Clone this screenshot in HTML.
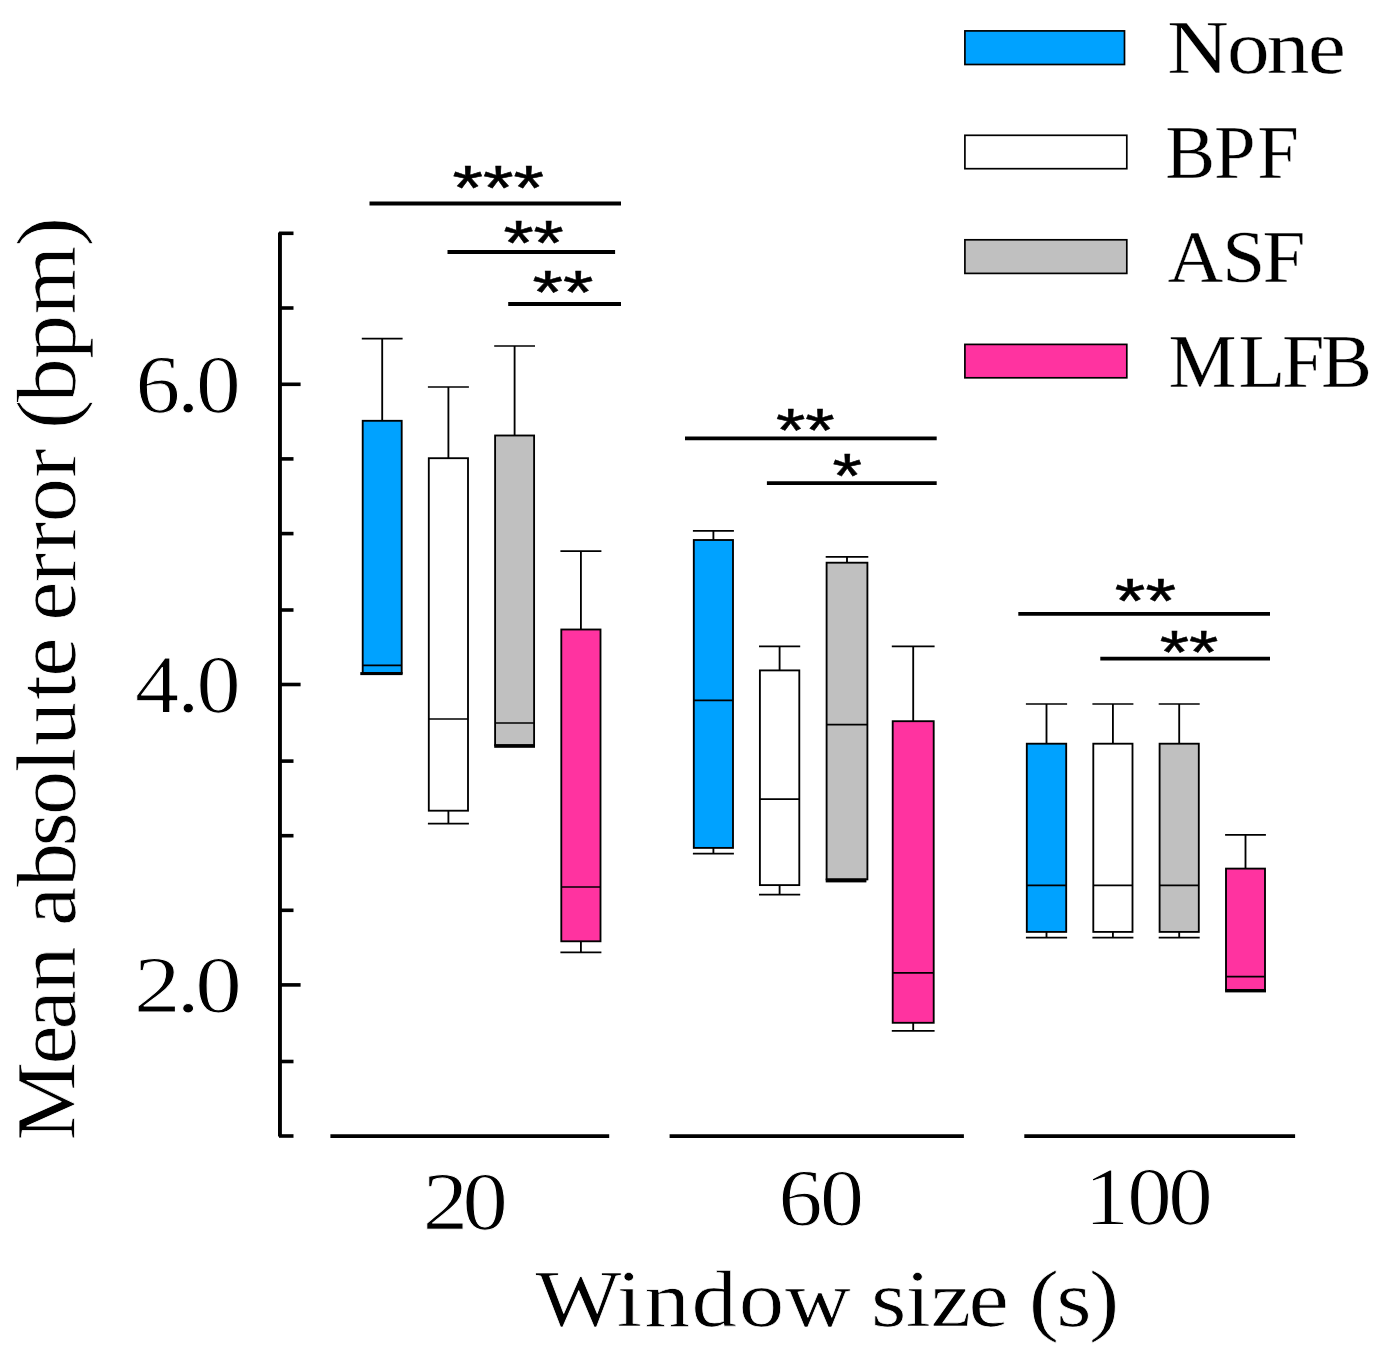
<!DOCTYPE html>
<html lang="en">
<head>
<meta charset="utf-8">
<title>Mean absolute error by window size</title>
<style>
html,body{margin:0;padding:0;background:#fff;}
body{width:1384px;height:1361px;overflow:hidden;}
svg{display:block;}
.serif{font-family:"Liberation Serif","DejaVu Serif",serif;fill:#000;stroke-linejoin:round;}
.star{font-family:"Liberation Sans","DejaVu Sans",sans-serif;fill:#000;}
.ln{stroke:#000;fill:none;}
</style>
</head>
<body>
<svg width="1384" height="1361" viewBox="0 0 1384 1361">
<rect x="0" y="0" width="1384" height="1361" fill="#fff"/>

<g class="ln" stroke-width="3.9">
<line x1="279.95" y1="232.6" x2="279.95" y2="1136.4"/>
</g>
<g class="ln" stroke-width="3.6">
<line x1="279" y1="233.30" x2="293.5" y2="233.30"/>
<line x1="279" y1="308.00" x2="293.5" y2="308.00"/>
<line x1="279" y1="384.30" x2="300.6" y2="384.30"/>
<line x1="279" y1="458.90" x2="293.5" y2="458.90"/>
<line x1="279" y1="533.60" x2="293.5" y2="533.60"/>
<line x1="279" y1="610.00" x2="293.5" y2="610.00"/>
<line x1="279" y1="684.50" x2="300.6" y2="684.50"/>
<line x1="279" y1="761.10" x2="293.5" y2="761.10"/>
<line x1="279" y1="835.70" x2="293.5" y2="835.70"/>
<line x1="279" y1="910.30" x2="293.5" y2="910.30"/>
<line x1="279" y1="984.90" x2="300.6" y2="984.90"/>
<line x1="279" y1="1061.50" x2="293.5" y2="1061.50"/>
<line x1="279" y1="1136.00" x2="293.5" y2="1136.00"/>
</g>
<g class="ln" stroke-width="3.7">
<line x1="330.4" y1="1136.2" x2="609.2" y2="1136.2"/>
<line x1="669.6" y1="1136.2" x2="963.9" y2="1136.2"/>
<line x1="1024.3" y1="1136.2" x2="1295.1" y2="1136.2"/>
</g>
<g stroke="#000" stroke-width="1.85">
<line x1="382.2" y1="338.7" x2="382.2" y2="420.8"/>
<line x1="361.8" y1="338.7" x2="402.6" y2="338.7" stroke-width="1.7"/>
<rect x="362.7" y="420.8" width="39.0" height="252.2" fill="#00a2ff"/>
<line x1="362.7" y1="665.3" x2="401.7" y2="665.3" stroke-width="1.7"/>
<rect x="360.3" y="672.1" width="42.3" height="3.0" fill="#000" stroke="none"/>
<line x1="448.4" y1="387.0" x2="448.4" y2="458.2"/>
<line x1="427.9" y1="387.0" x2="468.9" y2="387.0" stroke-width="1.7"/>
<line x1="448.4" y1="810.7" x2="448.4" y2="823.7"/>
<line x1="427.9" y1="823.7" x2="468.9" y2="823.7" stroke-width="1.7"/>
<rect x="428.8" y="458.2" width="39.2" height="352.5" fill="#ffffff"/>
<line x1="428.8" y1="719.0" x2="468.0" y2="719.0" stroke-width="1.7"/>
<line x1="514.6" y1="346.0" x2="514.6" y2="435.5"/>
<line x1="494.2" y1="346.0" x2="535.0" y2="346.0" stroke-width="1.7"/>
<rect x="495.1" y="435.5" width="39.0" height="309.7" fill="#c0c0c0"/>
<line x1="495.1" y1="723.0" x2="534.1" y2="723.0" stroke-width="1.7"/>
<rect x="494.2" y="744.3" width="40.8" height="3.5" fill="#000" stroke="none"/>
<line x1="580.9" y1="551.2" x2="580.9" y2="629.5"/>
<line x1="560.4" y1="551.2" x2="601.4" y2="551.2" stroke-width="1.7"/>
<line x1="580.9" y1="941.3" x2="580.9" y2="952.4"/>
<line x1="560.4" y1="952.4" x2="601.4" y2="952.4" stroke-width="1.7"/>
<rect x="561.3" y="629.5" width="39.2" height="311.8" fill="#ff33a0"/>
<line x1="561.3" y1="887.0" x2="600.5" y2="887.0" stroke-width="1.7"/>
<line x1="713.4" y1="530.9" x2="713.4" y2="540.0"/>
<line x1="692.9" y1="530.9" x2="733.9" y2="530.9" stroke-width="1.7"/>
<line x1="713.4" y1="847.9" x2="713.4" y2="853.7"/>
<line x1="692.9" y1="853.7" x2="733.9" y2="853.7" stroke-width="1.7"/>
<rect x="693.8" y="540.0" width="39.2" height="307.9" fill="#00a2ff"/>
<line x1="693.8" y1="700.3" x2="733.0" y2="700.3" stroke-width="1.7"/>
<line x1="779.6" y1="646.4" x2="779.6" y2="670.4"/>
<line x1="759.0" y1="646.4" x2="800.2" y2="646.4" stroke-width="1.7"/>
<line x1="779.6" y1="885.1" x2="779.6" y2="894.6"/>
<line x1="759.0" y1="894.6" x2="800.2" y2="894.6" stroke-width="1.7"/>
<rect x="759.9" y="670.4" width="39.4" height="214.7" fill="#ffffff"/>
<line x1="759.9" y1="799.2" x2="799.3" y2="799.2" stroke-width="1.7"/>
<line x1="847.0" y1="556.9" x2="847.0" y2="562.7"/>
<line x1="825.7" y1="556.9" x2="868.3" y2="556.9" stroke-width="1.7"/>
<rect x="826.6" y="562.7" width="40.8" height="316.7" fill="#c0c0c0"/>
<line x1="826.6" y1="724.7" x2="867.4" y2="724.7" stroke-width="1.7"/>
<rect x="825.7" y="878.5" width="40.7" height="3.9" fill="#000" stroke="none"/>
<line x1="913.2" y1="646.4" x2="913.2" y2="721.2"/>
<line x1="891.8" y1="646.4" x2="934.6" y2="646.4" stroke-width="1.7"/>
<line x1="913.2" y1="1022.8" x2="913.2" y2="1030.8"/>
<line x1="891.8" y1="1030.8" x2="934.6" y2="1030.8" stroke-width="1.7"/>
<rect x="892.7" y="721.2" width="41.0" height="301.6" fill="#ff33a0"/>
<line x1="892.7" y1="972.8" x2="933.7" y2="972.8" stroke-width="1.7"/>
<line x1="1046.5" y1="704.0" x2="1046.5" y2="743.7"/>
<line x1="1025.9" y1="704.0" x2="1067.1" y2="704.0" stroke-width="1.7"/>
<line x1="1046.5" y1="931.9" x2="1046.5" y2="937.7"/>
<line x1="1025.9" y1="937.7" x2="1067.1" y2="937.7" stroke-width="1.7"/>
<rect x="1026.8" y="743.7" width="39.4" height="188.2" fill="#00a2ff"/>
<line x1="1026.8" y1="885.4" x2="1066.2" y2="885.4" stroke-width="1.7"/>
<line x1="1112.9" y1="704.0" x2="1112.9" y2="743.7"/>
<line x1="1092.4" y1="704.0" x2="1133.4" y2="704.0" stroke-width="1.7"/>
<line x1="1112.9" y1="931.9" x2="1112.9" y2="937.7"/>
<line x1="1092.4" y1="937.7" x2="1133.4" y2="937.7" stroke-width="1.7"/>
<rect x="1093.3" y="743.7" width="39.2" height="188.2" fill="#ffffff"/>
<line x1="1093.3" y1="885.4" x2="1132.5" y2="885.4" stroke-width="1.7"/>
<line x1="1179.2" y1="704.0" x2="1179.2" y2="743.7"/>
<line x1="1158.7" y1="704.0" x2="1199.7" y2="704.0" stroke-width="1.7"/>
<line x1="1179.2" y1="931.9" x2="1179.2" y2="937.7"/>
<line x1="1158.7" y1="937.7" x2="1199.7" y2="937.7" stroke-width="1.7"/>
<rect x="1159.6" y="743.7" width="39.2" height="188.2" fill="#c0c0c0"/>
<line x1="1159.6" y1="885.4" x2="1198.8" y2="885.4" stroke-width="1.7"/>
<line x1="1245.5" y1="834.9" x2="1245.5" y2="868.6"/>
<line x1="1225.1" y1="834.9" x2="1265.9" y2="834.9" stroke-width="1.7"/>
<rect x="1226.0" y="868.6" width="39.0" height="121.3" fill="#ff33a0"/>
<line x1="1226.0" y1="976.6" x2="1265.0" y2="976.6" stroke-width="1.7"/>
<rect x="1225.1" y="989.0" width="40.9" height="3.4" fill="#000" stroke="none"/>
</g>
<g class="ln" stroke-width="3.8">
<line x1="369.5" y1="203.5" x2="621" y2="203.5"/>
<line x1="447.5" y1="252" x2="615.1" y2="252"/>
<line x1="508.2" y1="304" x2="621" y2="304"/>
<line x1="685" y1="438.4" x2="936.7" y2="438.4"/>
<line x1="766.9" y1="483.2" x2="936.7" y2="483.2"/>
<line x1="1018.3" y1="613.85" x2="1270" y2="613.85"/>
<line x1="1100.3" y1="658.7" x2="1270" y2="658.7"/>
</g>
<text class="star" font-size="80" stroke="#000" stroke-width="0.7" transform="translate(452.57 209.04) scale(0.9792 0.7766)">***</text>
<text class="star" font-size="80" stroke="#000" stroke-width="0.7" transform="translate(503.38 264.33) scale(0.9685 0.7801)">**</text>
<text class="star" font-size="80" stroke="#000" stroke-width="0.7" transform="translate(532.47 313.27) scale(0.9768 0.7663)">**</text>
<text class="star" font-size="80" stroke="#000" stroke-width="0.7" transform="translate(775.90 451.08) scale(0.9436 0.7629)">**</text>
<text class="star" font-size="80" stroke="#000" stroke-width="0.7" transform="translate(832.50 496.86) scale(0.9458 0.7805)">*</text>
<text class="star" font-size="80" stroke="#000" stroke-width="0.7" transform="translate(1114.87 622.33) scale(0.9818 0.7801)">**</text>
<text class="star" font-size="80" stroke="#000" stroke-width="0.7" transform="translate(1159.70 673.27) scale(0.9420 0.7663)">**</text>
<g stroke="#000" stroke-width="1.7">
<rect x="964.9" y="30.9" width="159.6" height="33.6" fill="#00a2ff"/>
<rect x="964.9" y="135.3" width="161.9" height="33.4" fill="#ffffff"/>
<rect x="964.9" y="239.8" width="161.9" height="33.6" fill="#c0c0c0"/>
<rect x="964.9" y="344.4" width="161.9" height="33.4" fill="#ff33a0"/>
</g>
<text class="serif" font-size="80" stroke="#fff" stroke-width="0.4" xml:space="preserve" transform="translate(0 73.09) scale(1.0662 0.9385)" x="1094.86 1150.94 1188.02 1226.81" y="0">None</text>
<text class="serif" font-size="80" stroke="#fff" stroke-width="0.4" xml:space="preserve" transform="translate(0 177.59) scale(0.9355 0.9385)" x="1245.65 1297.75 1344.03" y="0">BPF</text>
<text class="serif" font-size="80" stroke="#fff" stroke-width="0.4" xml:space="preserve" transform="translate(0 281.99) scale(0.9675 0.9385)" x="1206.82 1263.4 1304.88" y="0">ASF</text>
<text class="serif" font-size="80" stroke="#fff" stroke-width="0.4" xml:space="preserve" transform="translate(0 386.69) scale(0.9558 0.9385)" x="1222.5 1295.69 1341.3 1382.19" y="0">MLFB</text>
<text class="serif" font-size="80" stroke="#fff" stroke-width="0.9" xml:space="preserve" transform="translate(0 411.94) scale(1.1189 1.0226)" x="121.03 158.25 175.24" y="0">6.0</text>
<text class="serif" font-size="80" stroke="#fff" stroke-width="0.9" xml:space="preserve" transform="translate(0 712.44) scale(1.1027 1.0264)" x="122.47 160.72 178.11" y="0">4.0</text>
<text class="serif" font-size="80" stroke="#fff" stroke-width="0.9" xml:space="preserve" transform="translate(0 1012.44) scale(1.1642 1.0169)" x="115.03 151.7 167.64" y="0">2.0</text>
<text class="serif" font-size="80" stroke="#fff" stroke-width="0.9" xml:space="preserve" transform="translate(0 1229.34) scale(1.1338 1.0320)" x="372.94 408.01" y="0">20</text>
<text class="serif" font-size="80" stroke="#fff" stroke-width="0.9" xml:space="preserve" transform="translate(0 1225.24) scale(1.1000 1.0151)" x="707.74 745.45" y="0">60</text>
<text class="serif" font-size="80" stroke="#fff" stroke-width="0.9" xml:space="preserve" transform="translate(0 1223.64) scale(1.1132 1.0207)" x="974.3 1012.63 1049.37" y="0">100</text>
<text class="serif" font-size="80" stroke="#fff" stroke-width="0.7" xml:space="preserve" transform="translate(0 1326.45) scale(1.1368 1.0058)" x="471.06 542.48 566.95 608.29 649.89 690.48 748.26 766.29 796.62 818.86 852.04 887.55 904.86 929.17 957.9" y="0">Window size (s)</text>
<text class="serif" font-size="80" stroke="#fff" stroke-width="0.7" xml:space="preserve" transform="translate(75.37 0) rotate(-90) scale(1.1032 1.0696)" x="-1033.92 -965.02 -933.23 -897.99 -857.99 -839.37 -804.11 -767.23 -738.84 -700.18 -676.14 -634.21 -613.55 -578.04 -562.65 -527.88 -499.42 -473.3 -433.07 -406.42 -388.93 -364.9 -325.53 -285.06 -223.45" y="0">Mean absolute error (bpm)</text>
</svg>
</body>
</html>
